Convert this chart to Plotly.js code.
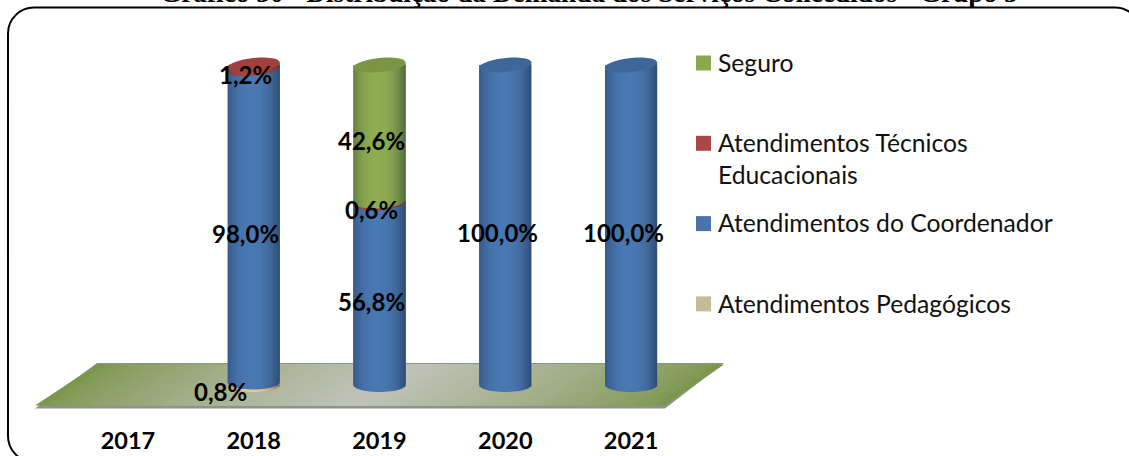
<!DOCTYPE html>
<html>
<head>
<meta charset="utf-8">
<script src="https://cdn.plot.ly/plotly-3.0.1.min.js"></script>
<style>html,body{margin:0;padding:0;background:#fff;overflow:hidden}</style>
</head>
<body>
<div id="chart" style="width:1129px;height:456px"></div>
<script>
const years = ['2017','2018','2019','2020','2021'];
const pedagogicos = [0, 0.8, 0, 0, 0];
const coordenador = [0, 98.0, 56.8, 100.0, 100.0];
const tecnicos = [0, 1.2, 0.6, 0, 0];
const seguro = [0, 0, 42.6, 0, 0];

const seriesNames = ['Atendimentos Pedagógicos','Atendimentos do Coordenador','Atendimentos Técnicos Educacionais','Seguro'];
const seriesValues = [pedagogicos, coordenador, tecnicos, seguro];
const seriesColors = ['#e8c79a','#4a78b2','#ab4744','#8fad50'];
const capColors = ['#b5ae88','#3d669a','#a03f3d','#7b9545'];

const W = 1129, H = 456, L = 65, R = 694, T = 65, B = 385;
const gap = 0.586, barW = 1 - gap;
const px = v => (v - L) / (R - L);
const py = v => (B - v) / (B - T);
const colX = i => (i + 0.5) / years.length;
const rx = barW / years.length / 2;
const ry = 7 / (B - T);

// tilt of the ellipse at stack height v (percent), as in the 3D original
const tilt = v => 0.1 * (v / 100) * ((R - L) / (B - T));
const ptY = (v, u) => v / 100 + u * rx * tilt(v);

function arcPoints(i, v, from, to) {
  const n = 28, pts = [];
  for (let k = 0; k <= n; k++) {
    const a = from + (to - from) * k / n, u = Math.cos(a);
    pts.push([colX(i) + rx * u, ptY(v, u) + ry * Math.sin(a)]);
  }
  return pts;
}
const toPath = pts => pts.map((p, k) => (k ? 'L' : 'M') + p[0].toFixed(5) + ',' + p[1].toFixed(5)).join('') + 'Z';

const shapes = [];
const paperShape = (path, fill, extra) => Object.assign({type:'path', xref:'paper', yref:'paper', path, fillcolor:fill, line:{width:0}, layer:'above'}, extra||{});

// Floor: nested sheared parallelograms, green at the ends and grey in the middle
const floor = {tl:97, tr:724, bl:35, br:665};
const mix = (a,b,t) => 'rgb(' + a.map((c,j)=>Math.round(c+(b[j]-c)*t)).join(',') + ')';
const para = (u0,u1,top,bot) => {
  const xt = u => floor.tl + (floor.tr - floor.tl) * u, xb = u => floor.bl + (floor.br - floor.bl) * u;
  return 'M'+px(xt(u0))+','+py(top)+'L'+px(xt(u1))+','+py(top)+'L'+px(xb(u1))+','+py(bot)+'L'+px(xb(u0))+','+py(bot)+'Z';
};
shapes.push(paperShape(para(0,1,363,408.5), '#8d958a', {layer:'below'}));
const steps = 30;
for (let s = 0; s < steps; s++) {
  const t = s / (steps - 1), m = 0.5 * s / steps;
  shapes.push(paperShape(para(m, 1 - m, 364.5, 405.5), mix([125,150,78],[192,194,184],Math.pow(t,0.75)), {layer:'below'}));
}

// Rounded frame around the chart
const fx0 = 8, fx1 = 1141, fy0 = 7.5, fy1 = 462, r = 26, kr = r * 0.448;
const F = (x,y) => px(x)+','+py(y);
shapes.push({type:'path', xref:'paper', yref:'paper', layer:'above', line:{color:'#000',width:2},
  path:'M'+F(fx0+r,fy0)+'L'+F(fx1-r,fy0)+'C'+F(fx1-kr,fy0)+' '+F(fx1,fy0+kr)+' '+F(fx1,fy0+r)
    +'L'+F(fx1,fy1-r)+'C'+F(fx1,fy1-kr)+' '+F(fx1-kr,fy1)+' '+F(fx1-r,fy1)
    +'L'+F(fx0+r,fy1)+'C'+F(fx0+kr,fy1)+' '+F(fx0,fy1-kr)+' '+F(fx0,fy1-r)
    +'L'+F(fx0,fy0+r)+'C'+F(fx0,fy0+kr)+' '+F(fx0+kr,fy0)+' '+F(fx0+r,fy0)+'Z'});

// Cylinder look for each stacked column, all heights taken from the series
years.forEach((yr, i) => {
  let cum = 0, total = 0, topIdx = -1;
  seriesValues.forEach((vals, s) => { if (vals[i] > 0) { total += vals[i]; topIdx = s; } });
  if (!total) return;
  seriesValues.forEach((vals, s) => {
    const v = vals[i];
    if (v > 0) {
      const pts = arcPoints(i, cum, Math.PI, 2 * Math.PI);
      pts.push([colX(i) + rx, ptY(cum + v, 1)], [colX(i) - rx, ptY(cum + v, -1)]);
      shapes.push(paperShape(toPath(pts), seriesColors[s]));
    }
    cum += v;
  });
  // vertical shading strips, following the curved base and top of the cylinder
  const strips = 26;
  for (let k = 0; k < strips; k++) {
    const u0 = -1 + 2 * k / strips, u1 = -1 + 2 * (k + 1) / strips, um = (u0 + u1) / 2;
    const c = Math.sqrt(1 - um * um);
    const edge = Math.abs(um + 0.08);
    const alpha = Math.pow(edge, 2.6) * 0.42;
    const yb = -ry * c, yt = ptY(total, um) - ry * c;
    const x0 = colX(i) + rx * u0, x1 = colX(i) + rx * u1;
    shapes.push(paperShape('M'+x0+','+yb+'L'+x1+','+yb+'L'+x1+','+yt+'L'+x0+','+yt+'Z', 'rgba(15,30,50,'+alpha.toFixed(3)+')'));
  }
  shapes.push(paperShape(toPath(arcPoints(i, total, 0, 2 * Math.PI)), capColors[topIdx]));
});

// Data labels
const annotations = [];
const labelFont = {family:'Lato, "Open Sans", sans-serif', size:24, color:'#000'};
const fmt = v => v.toFixed(1).replace('.', ',') + '%';
years.forEach((yr, i) => {
  let cum = 0;
  seriesValues.forEach(vals => {
    const v = vals[i];
    if (v > 0) annotations.push({xref:'x', yref:'y', x:i, y:cum + v/2, text:'<b>'+fmt(v)+'</b>', showarrow:false,
      xanchor:'center', yanchor:'middle', xshift: v < 1 && cum === 0 ? -33 : -8, yshift:-7.5, font:labelFont});
    cum += v;
  });
});

// Legend, top to bottom
const legendLabels = ['Seguro','Atendimentos Técnicos<br>Educacionais','Atendimentos do Coordenador','Atendimentos Pedagógicos'];
const legendColors = ['#8ba84f','#ab4744','#4a74a9','#c4bd97'];
legendLabels.forEach((label, idx) => {
  const cy = 63 + idx * 80.3;
  shapes.push({type:'rect', xref:'paper', yref:'paper', layer:'above', x0:px(696), x1:px(711), y0:py(cy-7.5), y1:py(cy+7.5), fillcolor:legendColors[idx], line:{width:0}});
  annotations.push({xref:'paper', yref:'paper', x:px(717), y:py(cy-16.3), xanchor:'left', yanchor:'top', align:'left', showarrow:false,
    text:label, font:{family:'Lato, "Open Sans", sans-serif', size:24.7, color:'#111'}, borderpad:0});
});

// Title, cut by the top edge of the page as in the reference
annotations.push({xref:'paper', yref:'paper', x:px(589), y:py(9), xanchor:'center', yanchor:'bottom', showarrow:false, borderpad:0,
  text:'<b>Gráfico 30 - Distribuição da Demanda dos Serviços Concedidos - Grupo 5</b>',
  font:{family:'"Liberation Serif", serif', size:27.3, color:'#000'}});

const traces = seriesNames.map((name, s) => ({
  type:'bar', name, x:years, y:seriesValues[s],
  marker:{color:seriesColors[s], line:{width:0}}
}));

Plotly.newPlot('chart', traces, {
  width:W, height:H, autosize:false, barmode:'stack', bargap:gap, showlegend:false,
  margin:{l:L, r:W-R, t:T, b:H-B, pad:0},
  paper_bgcolor:'#fff', plot_bgcolor:'rgba(0,0,0,0)',
  xaxis:{type:'category', categoryorder:'array', categoryarray:years, range:[-0.5,4.5], showgrid:false, zeroline:false, showline:false,
    ticks:'outside', ticklen:35, tickcolor:'rgba(0,0,0,0)', tickfont:{family:'Lato, "Open Sans", sans-serif', size:23.5, color:'#000', weight:700}},
  yaxis:{range:[0,100], visible:false, fixedrange:true},
  shapes, annotations
}, {displayModeBar:false, responsive:false});
</script>
</body>
</html>
